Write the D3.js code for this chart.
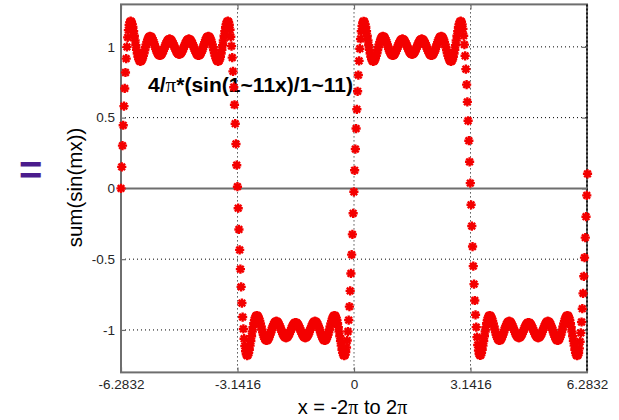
<!DOCTYPE html>
<html><head><meta charset="utf-8">
<script src="https://cdn.jsdelivr.net/npm/d3@7"></script>
<style>body{margin:0;background:#fff;} svg{display:block;}</style>
</head><body>
<svg id="chart" width="619" height="420"></svg>
<script>
// ---- data ----
const xTickValues = [-6.2832, -3.1416, 0, 3.1416, 6.2832];
const xTickLabels = ["-6.2832", "-3.1416", "0", "3.1416", "6.2832"];
const yTickValues = [-1, -0.5, 0, 0.5, 1];
const yTickLabels = ["-1", "-0.5", "0", "0.5", "1"];
const xStart = -6.2832, xStep = 0.02;   // sample spacing of the plotted points
const titleText = ["4/", "π", "*(sin(1~11x)/1~11)"];
const xLabelParts = ["x = -2", "π", " to 2", "π"];
const yLabelText = "sum(sin(mx))";

// x from -2π to -π
const waveA = [0,0.152,0.302,0.446,0.581,0.706,0.819,0.917,1.000,1.067,1.118,1.154,1.175,1.182,1.177,
1.162,1.140,1.111,1.078,1.045,1.011,0.980,0.952,0.930,0.913,0.902,0.898,0.900,0.907,0.920,0.936,0.955,0.976,0.997,1.017,1.035,1.051,1.063,1.070,1.074,1.073,1.068,1.059,1.047,1.033,1.017,1.001,0.985,0.971,0.959,0.949,0.943,0.940,0.940,0.944,0.951,0.961,0.973,0.986,0.999,1.013,1.026,1.037,1.045,1.051,1.054,1.054,1.051,1.045,1.036,1.025,1.013,1.001,0.988,0.976,0.965,0.957,0.951,0.948,
0.948,0.951,0.957,0.965,0.976,0.988,1.001,1.013,1.025,1.036,1.045,1.051,1.054,1.054,1.051,1.045,1.037,1.026,1.013,0.999,0.986,0.973,0.961,0.951,0.944,0.940,0.940,0.943,0.949,0.959,0.971,0.985,1.001,1.017,1.033,1.047,1.059,1.068,1.073,1.074,1.070,1.063,1.051,1.035,1.017,0.997,0.976,0.955,0.936,0.920,0.907,0.900,0.898,0.902,0.913,0.930,0.952,0.980,1.011,1.045,1.078,1.111,1.140,1.162,1.177,1.182,
1.176,1.156,1.121,1.071,1.005,0.924,0.827,0.715,0.591,0.457,0.314,0.164,0.012];
// x from -π to 0
const waveB = [-0.140,-0.290,-0.434,-0.570,-0.696,-0.810,-0.909,-0.993,-1.062,-1.114,-1.151,-1.173,-1.181,-1.177,
-1.162,-1.140,-1.111,-1.078,-1.045,-1.011,-0.980,-0.952,-0.930,-0.913,-0.902,-0.898,-0.900,-0.907,-0.920,-0.936,-0.955,-0.976,-0.997,-1.017,-1.035,-1.051,-1.063,-1.070,-1.074,-1.073,-1.068,-1.059,-1.047,-1.033,-1.017,-1.001,-0.985,-0.971,-0.959,-0.949,-0.943,-0.940,-0.940,-0.944,-0.951,-0.961,-0.973,-0.986,-0.999,-1.013,-1.026,-1.037,-1.045,-1.051,-1.054,-1.054,-1.051,-1.045,-1.036,-1.025,-1.013,-1.001,-0.988,-0.976,-0.965,-0.957,-0.951,-0.948,
-0.948,-0.951,-0.957,-0.965,-0.976,-0.988,-1.001,-1.013,-1.025,-1.036,-1.045,-1.051,-1.054,-1.054,-1.051,-1.045,-1.037,-1.026,-1.013,-0.999,-0.986,-0.973,-0.961,-0.951,-0.944,-0.940,-0.940,-0.943,-0.949,-0.959,-0.971,-0.985,-1.001,-1.017,-1.033,-1.047,-1.059,-1.068,-1.073,-1.074,-1.070,-1.063,-1.051,-1.035,-1.017,-0.997,-0.976,-0.955,-0.936,-0.920,-0.907,-0.900,-0.898,-0.902,-0.913,-0.930,-0.952,-0.980,-1.011,-1.045,-1.078,-1.111,-1.140,-1.162,-1.177,-1.182,
-1.176,-1.157,-1.124,-1.075,-1.011,-0.930,-0.835,-0.724,-0.601,-0.468,-0.325,-0.176,-0.024];
// x from 0 to π
const waveC = [0.128,0.278,0.423,0.559,0.686,0.801,0.901,0.987,1.056,1.110,1.148,1.172,1.181,1.178,
1.162,1.140,1.111,1.078,1.045,1.011,0.980,0.952,0.930,0.913,0.902,0.898,0.900,0.907,0.920,0.936,0.955,0.976,0.997,1.017,1.035,1.051,1.063,1.070,1.074,1.073,1.068,1.059,1.047,1.033,1.017,1.001,0.985,0.971,0.959,0.949,0.943,0.940,0.940,0.944,0.951,0.961,0.973,0.986,0.999,1.013,1.026,1.037,1.045,1.051,1.054,1.054,1.051,1.045,1.036,1.025,1.013,1.001,0.988,0.976,0.965,0.957,0.951,0.948,
0.948,0.951,0.957,0.965,0.976,0.988,1.001,1.013,1.025,1.036,1.045,1.051,1.054,1.054,1.051,1.045,1.037,1.026,1.013,0.999,0.986,0.973,0.961,0.951,0.944,0.940,0.940,0.943,0.949,0.959,0.971,0.985,1.001,1.017,1.033,1.047,1.059,1.068,1.073,1.074,1.070,1.063,1.051,1.035,1.017,0.997,0.976,0.955,0.936,0.920,0.907,0.900,0.898,0.902,0.913,0.930,0.952,0.980,1.011,1.045,1.078,1.111,1.140,1.162,1.177,1.182,
1.177,1.159,1.127,1.079,1.016,0.937,0.843,0.733,0.611,0.478,0.337,0.188,0.037];
// x from π to 2π
const waveD = [-0.116,-0.266,-0.411,-0.549,-0.676,-0.792,-0.893,-0.980,-1.051,-1.106,-1.145,-1.170,-1.180,-1.178,
-1.162,-1.140,-1.111,-1.078,-1.045,-1.011,-0.980,-0.952,-0.930,-0.913,-0.902,-0.898,-0.900,-0.907,-0.920,-0.936,-0.955,-0.976,-0.997,-1.017,-1.035,-1.051,-1.063,-1.070,-1.074,-1.073,-1.068,-1.059,-1.047,-1.033,-1.017,-1.001,-0.985,-0.971,-0.959,-0.949,-0.943,-0.940,-0.940,-0.944,-0.951,-0.961,-0.973,-0.986,-0.999,-1.013,-1.026,-1.037,-1.045,-1.051,-1.054,-1.054,-1.051,-1.045,-1.036,-1.025,-1.013,-1.001,-0.988,-0.976,-0.965,-0.957,-0.951,-0.948,
-0.948,-0.951,-0.957,-0.965,-0.976,-0.988,-1.001,-1.013,-1.025,-1.036,-1.045,-1.051,-1.054,-1.054,-1.051,-1.045,-1.037,-1.026,-1.013,-0.999,-0.986,-0.973,-0.961,-0.951,-0.944,-0.940,-0.940,-0.943,-0.949,-0.959,-0.971,-0.985,-1.001,-1.017,-1.033,-1.047,-1.059,-1.068,-1.073,-1.074,-1.070,-1.063,-1.051,-1.035,-1.017,-0.997,-0.976,-0.955,-0.936,-0.920,-0.907,-0.900,-0.898,-0.902,-0.913,-0.930,-0.952,-0.980,-1.011,-1.045,-1.078,-1.111,-1.140,-1.162,-1.177,-1.182,
-1.177,-1.161,-1.130,-1.083,-1.021,-0.944,-0.850,-0.742,-0.621,-0.489,-0.348,-0.200,-0.049,0.103];

const sumValues = waveA.concat(waveB, waveC, waveD);
const points = sumValues.map((v, i) => ({x: xStart + i * xStep, y: v}));

// ---- drawing ----
const svg = d3.select("#chart");
const X0 = 121, X1 = 587, Y0 = 372.4, Y1 = 4.4;
const x = d3.scaleLinear().domain([xTickValues[0], xTickValues[4]]).range([X0, X1]);
const y = d3.scaleLinear().domain([-1.3, 1.3]).range([Y0, Y1]);
const FONT = "'Liberation Sans', Arial, sans-serif";

svg.append("rect").attr("width", 619).attr("height", 420).attr("fill", "#fff");

// grid (dotted)
const grid = svg.append("g").attr("stroke", "#000").attr("stroke-width", 1).attr("stroke-dasharray", "1,3");
grid.selectAll("line.v").data(xTickValues).join("line").attr("class", "v")
  .attr("x1", d => x(d)).attr("x2", d => x(d)).attr("y1", Y1).attr("y2", Y0);
grid.selectAll("line.h").data(yTickValues.filter(v => v !== 0)).join("line").attr("class", "h")
  .attr("x1", X0).attr("x2", X1).attr("y1", d => y(d)).attr("y2", d => y(d));

// axes with inward ticks
const axisColor = "#6e6e6e";
function styleAxis(g) {
  g.select(".domain").remove();
  g.selectAll(".tick line").attr("stroke", axisColor).attr("stroke-width", 1.2);
  g.selectAll(".tick text").attr("fill", "#262626").attr("font-family", FONT).attr("font-size", 13.5);
}
svg.append("g").attr("transform", `translate(0,${Y0})`)
  .call(d3.axisBottom(x).tickValues(xTickValues).tickFormat((d, i) => xTickLabels[i]).tickSize(-5).tickPadding(7))
  .call(styleAxis);
svg.append("g").attr("transform", `translate(0,${Y1})`)
  .call(d3.axisTop(x).tickValues(xTickValues).tickFormat("").tickSize(-5))
  .call(styleAxis);
svg.append("g").attr("transform", `translate(${X0},0)`)
  .call(d3.axisLeft(y).tickValues(yTickValues).tickFormat((d, i) => yTickLabels[i]).tickSize(-5).tickPadding(6))
  .call(styleAxis);
svg.append("g").attr("transform", `translate(${X1},0)`)
  .call(d3.axisRight(y).tickValues(yTickValues).tickFormat("").tickSize(-5))
  .call(styleAxis);

// box
svg.append("rect").attr("x", X0).attr("y", Y1).attr("width", X1 - X0).attr("height", Y0 - Y1)
  .attr("fill", "none").attr("stroke", axisColor).attr("stroke-width", 2);
// dotted grid at right edge over the box
svg.append("line").attr("x1", X1).attr("x2", X1).attr("y1", Y1).attr("y2", Y0)
  .attr("stroke", "#000").attr("stroke-width", 1.5).attr("stroke-dasharray", "2,2");

// zero line
svg.append("line").attr("x1", X0).attr("x2", X1).attr("y1", y(0)).attr("y2", y(0))
  .attr("stroke", axisColor).attr("stroke-width", 2);

// title annotation
const t = svg.append("text").attr("x", 148).attr("y", 92)
  .attr("font-family", FONT).attr("font-weight", "bold").attr("font-size", 20.5).attr("fill", "#000")
  .attr("textLength", 205).attr("lengthAdjust", "spacingAndGlyphs");
t.append("tspan").text(titleText[0]);
t.append("tspan").attr("font-family", "'Liberation Serif', serif").attr("font-weight", "normal").text(titleText[1]);
t.append("tspan").text(titleText[2]);

// points (asterisks)
const star = "M-4.6,0H4.6M0,-4.6V4.6M-3.3,-3.3L3.3,3.3M-3.3,3.3L3.3,-3.3";
svg.append("g").selectAll("path").data(points).join("path")
  .attr("d", star)
  .attr("transform", d => `translate(${x(d.x)},${y(d.y)})`)
  .attr("stroke", "#f40000").attr("stroke-width", 2.4).attr("fill", "none");

// axis labels
const xl = svg.append("text").attr("x", 352.5).attr("y", 414).attr("text-anchor", "middle")
  .attr("font-family", FONT).attr("font-size", 20).attr("fill", "#000");
xLabelParts.forEach((p, i) => {
  const ts = xl.append("tspan").text(p);
  if (p === "π") ts.attr("font-family", "'Liberation Serif', serif");
});
svg.append("text").attr("transform", "translate(82,187.5) rotate(-90)").attr("text-anchor", "middle")
  .attr("font-family", FONT).attr("font-size", 20.5).attr("fill", "#000").text(yLabelText);

// "=" sign
svg.append("text").attr("x", 19).attr("y", 183.5)
  .attr("font-family", FONT).attr("font-weight", "bold").attr("font-size", 40).attr("fill", "#4b1c8c").text("=");
</script>
</body></html>
